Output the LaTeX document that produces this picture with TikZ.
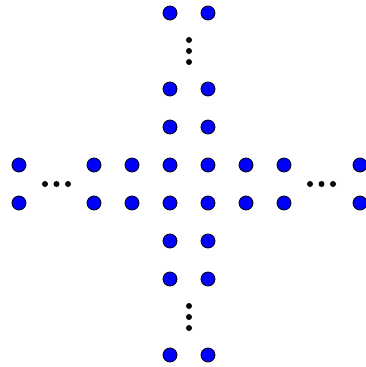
\documentclass[tikz,border=0pt]{standalone}
\begin{document}
\begin{tikzpicture}[x=1pt,y=-1pt,
  bead/.style={circle,draw=black,line width=0.8pt,fill=blue,minimum size=14pt,inner sep=0pt},
  pip/.style={circle,fill=black,minimum size=6pt,inner sep=0pt}]
\useasboundingbox (0,0) rectangle (365,367);
% horizontal arm
\foreach \x [count=\i] in {19,94,132,170,208,246,284,360}{
  \node[bead] (h1-\i) at (\x,165) {};
  \node[bead] (h2-\i) at (\x,203) {};
}
% vertical arm
\foreach \y [count=\j] in {13,89,127,241,279,355}{
  \node[bead] (v1-\j) at (170,\y) {};
  \node[bead] (v2-\j) at (208,\y) {};
}
% ellipses
\foreach \x [count=\k] in {45,56.5,68}{ \node[pip] (l\k) at (\x,184) {}; }
\foreach \x [count=\k] in {310,321.5,333}{ \node[pip] (r\k) at (\x,184) {}; }
\foreach \y [count=\k] in {40,51,62}{ \node[pip] (t\k) at (189,\y) {}; }
\foreach \y [count=\k] in {306,317,328}{ \node[pip] (b\k) at (189,\y) {}; }
\end{tikzpicture}
\end{document}
